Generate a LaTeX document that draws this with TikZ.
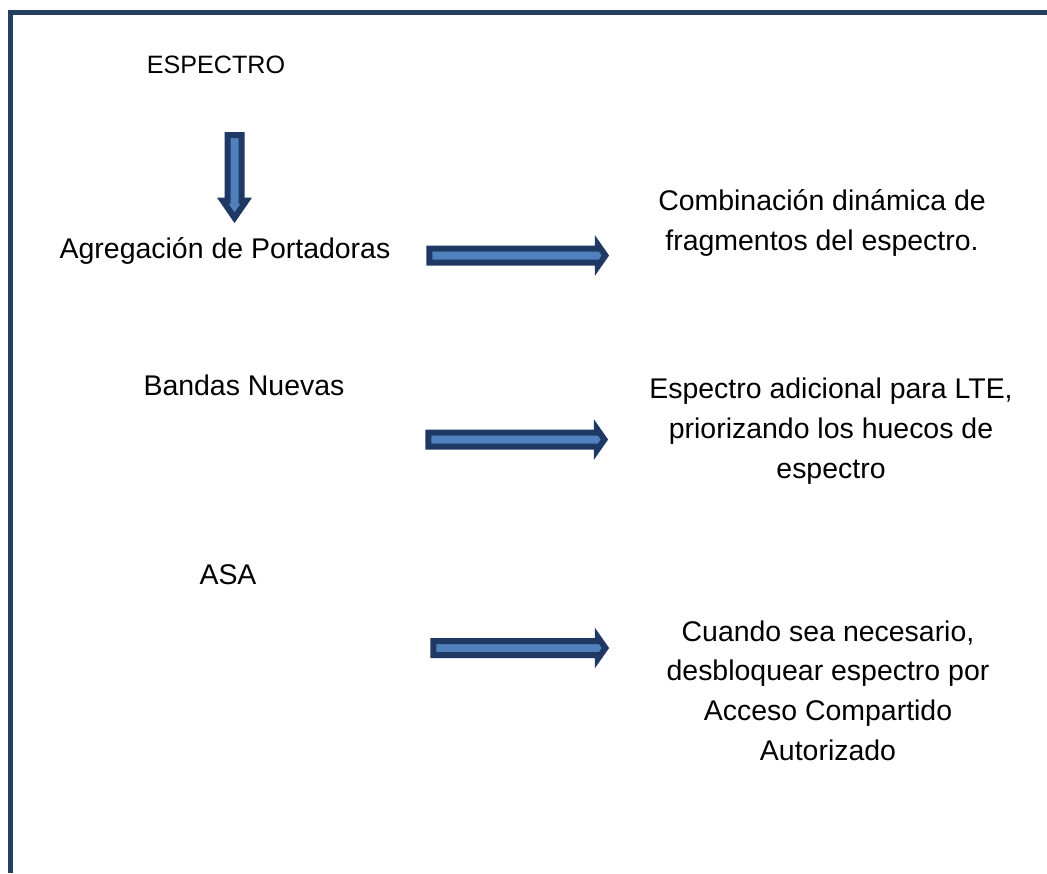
\documentclass[tikz,border=0pt]{standalone}
\usepackage{fontspec}
\setmainfont{Liberation Sans}
\usepackage{xcolor}
\definecolor{framenavy}{HTML}{243F60}
\definecolor{arrownavy}{HTML}{1F3864}
\definecolor{arrowblue}{HTML}{4F81BD}
\usepackage{tikz}
\usetikzlibrary{shapes.arrows}

\begin{document}
\begin{tikzpicture}[
        x=0.02cm, y=-0.02cm,
        label/.style={anchor=base, align=center, inner sep=0pt, font=\fontsize{16.2pt}{22.5pt}\selectfont},
        title/.style={anchor=base, inner sep=0pt, font=\fontsize{14.3pt}{18pt}\selectfont},
        blockarrow/.style={single arrow, draw=arrownavy, fill=arrowblue, line width=0.12cm, inner xsep=0pt, inner ysep=0.08cm, single arrow head extend=0.075cm, single arrow tip angle=110, minimum height=3.52cm}
    ]

        \useasboundingbox (0,0) rectangle (1047,873);

        % Frame
        \draw[framenavy, line width=0.1cm] (10.5,873) -- (10.5,12.5) -- (1047,12.5);

        % Left column
        \node[title] (espectro) at (216,73) {ESPECTRO};
        \node[blockarrow, rotate=-90, minimum height=1.654cm, single arrow head extend=0.096cm, single arrow tip angle=69] (bajada) at (234.5,171.35) {};
        \node[label] (agregacion) at (225,258) {Agregación de Portadoras};
        \node[label] (bandas) at (244,395) {Bandas Nuevas};
        \node[label] (asa) at (228,584) {ASA};

        % Arrows
        \node[blockarrow] (flecha1) at (515,255.5) {};
        \node[blockarrow] (flecha2) at (514,439.5) {};
        \node[blockarrow, minimum height=3.44cm] (flecha3) at (517,648) {};

        % Right column
        \node[label] (combinacion) at (822,250) {Combinación dinámica de\\fragmentos del espectro.};
        \node[label] (adicional) at (831,478) {Espectro adicional para LTE,\\priorizando los huecos de\\espectro};
        \node[label] (compartido) at (828,760) {Cuando sea necesario,\\desbloquear espectro por\\Acceso Compartido\\Autorizado};

    \end{tikzpicture}
\end{document}
